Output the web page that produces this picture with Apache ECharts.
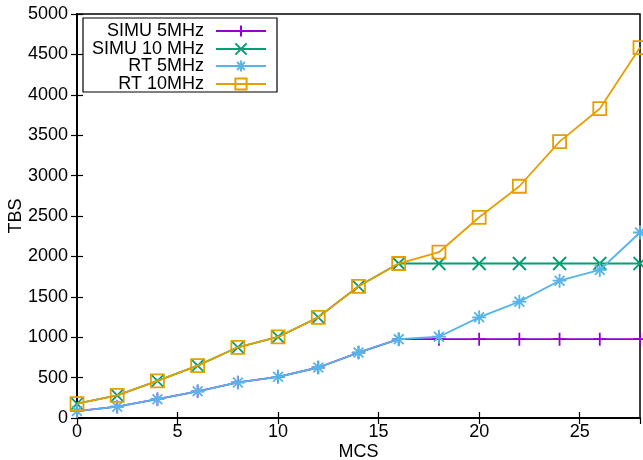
<!DOCTYPE html>
<html><head><meta charset="utf-8">
<script src="https://cdn.jsdelivr.net/npm/echarts@6/dist/echarts.min.js"></script>
<style>html,body{margin:0;padding:0;background:#fff}#c{width:643px;height:460px}</style>
</head><body><div id="c"></div>
<script>
const mcs = [0, 2, 4, 6, 8, 10, 12, 14, 16, 18, 20, 22, 24, 26, 28];
const simu5 = [86, 140, 233, 330, 440, 510, 625, 810, 976, 976, 976, 976, 976, 976, 976];
const simu10 = [178, 280, 459, 648, 875, 1003, 1246, 1630, 1912, 1912, 1912, 1912, 1912, 1912, 1912];
const rt5 = [86, 140, 233, 330, 440, 510, 625, 810, 976, 1006, 1246, 1440, 1699, 1832, 2296];
const rt10 = [178, 280, 459, 648, 875, 1003, 1246, 1630, 1912, 2052, 2484, 2868, 3420, 3828, 4584];
const names = ['SIMU 5MHz', 'SIMU 10 MHz', 'RT 5MHz', 'RT 10MHz'];
const colors = ['#9400d3', '#009e73', '#56b4e9', '#e69f00'];
const symbols = [
  'path://M5,0L5,10M0,5L10,5',
  'path://M0,0L10,10M0,10L10,0',
  'path://M5,0L5,10M0,5L10,5M1.5,1.5L8.5,8.5M1.5,8.5L8.5,1.5',
  'rect'
];
const sizes = [13, 13, 14, 13];
const allData = [simu5, simu10, rt5, rt10];
const FONT = 'Liberation Sans';
const FS = 18;

const series = allData.map((d, i) => ({
  name: names[i],
  type: 'line',
  data: mcs.map((x, k) => [x, d[k]]),
  symbol: symbols[i],
  symbolSize: sizes[i],
  showAllSymbol: true,
  z: 2 + i,
  lineStyle: { color: colors[i], width: 1.8 },
  itemStyle: { color: i === 3 ? 'rgba(255,255,255,0)' : 'none', borderColor: colors[i], borderWidth: 1.8 },
  emphasis: { disabled: true },
  animation: false
}));

const rowY = [29, 47, 64, 82];
const legends = names.map((n, i) => ({
  data: [n],
  right: 643 - 267,
  top: rowY[i] - 7,
  align: 'right',
  itemWidth: 50,
  itemHeight: 14,
  padding: 0,
  textStyle: { fontFamily: FONT, fontSize: FS, color: '#000', padding: [0, 7, 0, 0] }
}));

const chart = echarts.init(document.getElementById('c'), null, { renderer: 'canvas' });
chart.setOption({
  animation: false,
  backgroundColor: '#fff',
  grid: { left: 77, right: 3, top: 14, bottom: 42, show: true, borderColor: '#000', borderWidth: 1.5, containLabel: false, outerBoundsMode: 'none' },
  legend: legends,
  graphic: [{ type: 'rect', shape: { x: 83, y: 18, width: 194, height: 74 }, style: { fill: 'none', stroke: '#000', lineWidth: 1.2 }, z: 10 }],
  xAxis: [{
    type: 'value', min: 0, max: 28, interval: 5,
    name: 'MCS', nameLocation: 'middle', nameGap: 25, nameMoveOverlap: false,
    nameTextStyle: { fontFamily: FONT, fontSize: FS, color: '#000' },
    axisLine: { lineStyle: { color: '#000', width: 1.5 } },
    axisTick: { inside: true, length: 6, lineStyle: { color: '#000', width: 1.2 } },
    axisLabel: { fontFamily: FONT, fontSize: FS, color: '#000', margin: 5, showMaxLabel: false, formatter: v => String(v) },
    splitLine: { show: false }
  }, {
    type: 'value', min: 0, max: 28, interval: 5, position: 'top',
    axisLine: { lineStyle: { color: '#000', width: 1.5 } },
    axisTick: { inside: true, length: 6, lineStyle: { color: '#000', width: 1.2 } },
    axisLabel: { show: false }, splitLine: { show: false }
  }],
  yAxis: [{
    type: 'value', min: 0, max: 5000, interval: 500,
    name: 'TBS', nameLocation: 'middle', nameGap: 52, nameMoveOverlap: false,
    nameTextStyle: { fontFamily: FONT, fontSize: FS, color: '#000' },
    axisLine: { show: true, lineStyle: { color: '#000', width: 1.5 } },
    axisTick: { show: true, inside: true, length: 6, lineStyle: { color: '#000', width: 1.2 } },
    axisLabel: { fontFamily: FONT, fontSize: FS, color: '#000', margin: 9, formatter: v => String(v) },
    splitLine: { show: false }
  }, {
    type: 'value', min: 0, max: 5000, interval: 500, position: 'right',
    axisLine: { show: true, lineStyle: { color: '#000', width: 1.5 } },
    axisTick: { show: true, inside: true, length: 6, lineStyle: { color: '#000', width: 1.2 } },
    axisLabel: { show: false }, splitLine: { show: false }
  }],
  series: series
});
</script></body></html>
